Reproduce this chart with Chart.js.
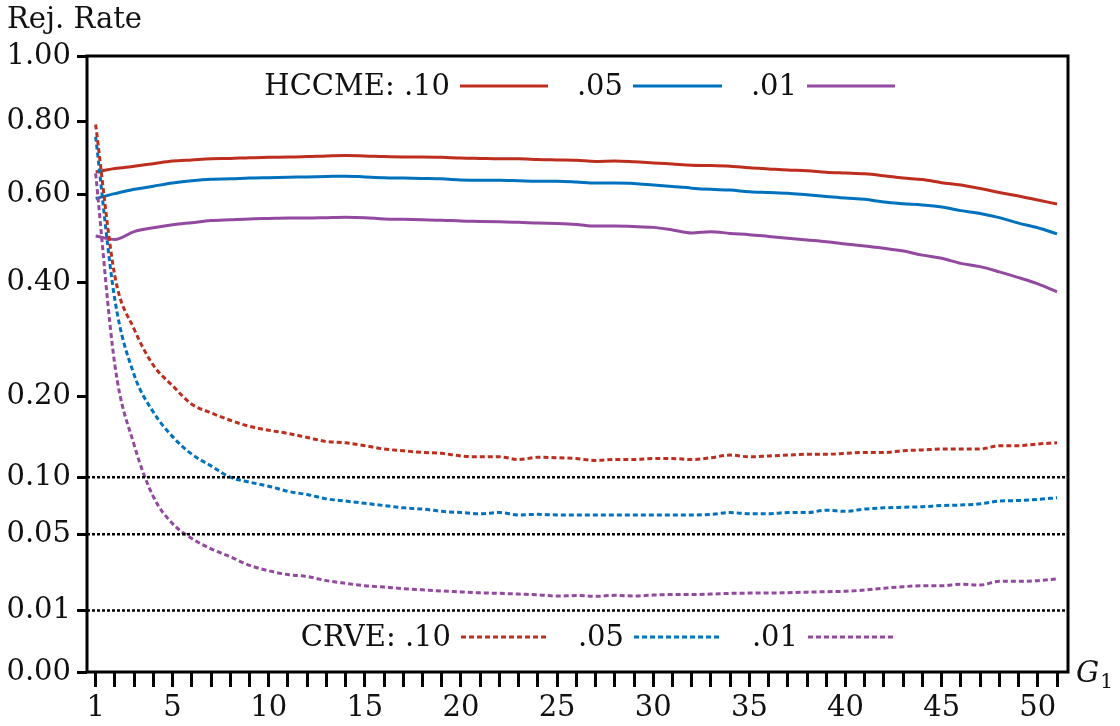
<!DOCTYPE html>
<html><head><meta charset="utf-8">
<script src="https://cdn.jsdelivr.net/npm/chart.js@4.4.1/dist/chart.umd.min.js"></script>
<style>html,body{margin:0;padding:0;background:#fff;}#wrap{width:1120px;height:726px;}</style>
</head><body><div id="wrap"><canvas id="c" width="1120" height="726"></canvas></div>
<script>
const g1 = [1,2,3,4,5,6,7,8,9,10,11,12,13,14,15,16,17,18,19,20,21,22,23,24,25,26,27,28,29,30,31,32,33,34,35,36,37,38,39,40,41,42,43,44,45,46,47,48,49,50,51];
const hccme10 = [0.659,0.668,0.674,0.681,0.688,0.691,0.694,0.695,0.697,0.698,0.699,0.700,0.702,0.703,0.702,0.700,0.699,0.699,0.698,0.696,0.695,0.694,0.694,0.692,0.691,0.690,0.687,0.688,0.686,0.683,0.680,0.677,0.676,0.674,0.670,0.667,0.664,0.662,0.658,0.656,0.654,0.649,0.643,0.639,0.631,0.625,0.616,0.606,0.597,0.587,0.577];
const hccme05 = [0.591,0.603,0.614,0.622,0.630,0.636,0.640,0.641,0.643,0.644,0.645,0.646,0.647,0.648,0.646,0.644,0.643,0.642,0.641,0.638,0.637,0.637,0.636,0.635,0.635,0.633,0.630,0.630,0.629,0.625,0.621,0.617,0.614,0.612,0.608,0.606,0.604,0.600,0.596,0.592,0.589,0.582,0.578,0.575,0.570,0.561,0.554,0.544,0.531,0.520,0.506];
const hccme01 = [0.501,0.493,0.511,0.520,0.527,0.532,0.537,0.539,0.541,0.542,0.543,0.543,0.544,0.545,0.544,0.541,0.540,0.539,0.538,0.536,0.535,0.534,0.533,0.531,0.530,0.528,0.524,0.524,0.523,0.521,0.515,0.508,0.511,0.507,0.504,0.500,0.496,0.492,0.488,0.483,0.478,0.473,0.467,0.458,0.451,0.440,0.433,0.422,0.410,0.397,0.381];
const crve10 = [0.790,0.413,0.310,0.248,0.216,0.189,0.177,0.167,0.159,0.154,0.150,0.145,0.140,0.1385,0.135,0.131,0.129,0.127,0.126,0.123,0.122,0.122,0.119,0.1215,0.121,0.120,0.118,0.119,0.119,0.120,0.120,0.119,0.121,0.124,0.122,0.123,0.124,0.125,0.125,0.126,0.127,0.127,0.129,0.130,0.131,0.131,0.131,0.135,0.135,0.137,0.1385];
const crve05 = [0.755,0.365,0.233,0.178,0.146,0.125,0.112,0.100,0.095,0.091,0.086,0.083,0.079,0.077,0.075,0.073,0.071,0.070,0.068,0.067,0.066,0.067,0.065,0.0655,0.065,0.065,0.065,0.065,0.065,0.065,0.065,0.065,0.0655,0.067,0.066,0.066,0.067,0.067,0.069,0.068,0.070,0.071,0.0715,0.072,0.073,0.0735,0.0745,0.077,0.0775,0.0785,0.080];
const crve01 = [0.655,0.248,0.136,0.081,0.058,0.047,0.040,0.035,0.030,0.027,0.025,0.024,0.022,0.0207,0.0196,0.019,0.0183,0.0178,0.0173,0.0169,0.0165,0.0163,0.016,0.0157,0.0152,0.0154,0.0151,0.0155,0.0152,0.0156,0.0158,0.0158,0.016,0.0163,0.0164,0.0164,0.0166,0.0168,0.0170,0.0172,0.0177,0.0185,0.0192,0.0196,0.0196,0.0203,0.0199,0.0217,0.0217,0.022,0.0228];
const refLevels = [0.10, 0.05, 0.01];
const yTickValues = [0, 0.01, 0.05, 0.10, 0.20, 0.40, 0.60, 0.80, 1.00];
const yTickLabels = ['0.00','0.01','0.05','0.10','0.20','0.40','0.60','0.80','1.00'];
const xLabeledTicks = [1,5,10,15,20,25,30,35,40,45,50];
const levelLabels = ['.10','.05','.01'];
const methodLabels = ['HCCME:','CRVE:'];

const RED = 'rgb(189,46,30)', BLUE = 'rgb(0,114,189)', PURPLE = 'rgb(148,73,160)';
const COLORS = [RED, BLUE, PURPLE];
const FONT = '"DejaVu Serif", serif';
const FS = 29;
const XMIN = 0.55, XMAX = 51.57;
const tr = v => Math.sqrt(v);
const DASH = [5, 3];

function series(label, vals, color, dashed) {
  return {
    label, data: g1.map((g, i) => ({x: g, y: tr(vals[i])})),
    borderColor: color, borderWidth: 3, borderDash: dashed ? DASH : [],
    pointRadius: 0, fill: false, cubicInterpolationMode: 'monotone', borderCapStyle: 'butt'
  };
}
const refSets = refLevels.map(l => ({
  label: 'ref ' + l, data: [{x: XMIN, y: tr(l)}, {x: XMAX, y: tr(l)}],
  borderColor: '#000', borderWidth: 2.5, borderDash: [3, 2], pointRadius: 0, fill: false
}));

const datasets = [
  ...refSets,
  series('CRVE .10', crve10, RED, true),
  series('CRVE .05', crve05, BLUE, true),
  series('CRVE .01', crve01, PURPLE, true),
  series('HCCME .10', hccme10, RED, false),
  series('HCCME .05', hccme05, BLUE, false),
  series('HCCME .01', hccme01, PURPLE, false)
];

const decor = {
  id: 'decor',
  afterDraw(chart) {
    const {ctx, chartArea: a} = chart;
    ctx.save();
    ctx.strokeStyle = '#000'; ctx.lineWidth = 3; ctx.setLineDash([]);
    ctx.strokeRect(a.left, a.top, a.right - a.left, a.bottom - a.top);
    ctx.fillStyle = '#111';
    ctx.textBaseline = 'alphabetic';
    ctx.textAlign = 'left';
    ctx.font = FS + 'px ' + FONT;
    ctx.fillText('Rej. Rate', 7, 28);
    ctx.font = 'italic ' + FS + 'px ' + FONT;
    ctx.fillText('G', 1076, 682);
    const gw = ctx.measureText('G').width;
    ctx.font = '20px ' + FONT;
    ctx.fillText('1', 1076 + gw + 1, 688);
    const rows = [
      {y: 86, dashed: false, starts: [460, 633, 807], ends: [548, 722, 895]},
      {y: 637, dashed: true, starts: [461, 634, 808], ends: [549, 721, 895]}
    ];
    rows.forEach((r, ri) => {
      levelLabels.forEach((lv, i) => {
        const txt = i === 0 ? methodLabels[ri] + ' ' + lv : lv;
        ctx.font = FS + 'px ' + FONT;
        ctx.textAlign = 'right';
        ctx.textBaseline = 'middle';
        ctx.fillStyle = '#111';
        ctx.fillText(txt, r.starts[i] - 10, r.y + 1);
        ctx.strokeStyle = COLORS[i];
        ctx.lineWidth = 3;
        ctx.setLineDash(r.dashed ? DASH : []);
        ctx.beginPath(); ctx.moveTo(r.starts[i], r.y); ctx.lineTo(r.ends[i], r.y); ctx.stroke();
      });
    });
    ctx.restore();
  }
};

new Chart(document.getElementById('c'), {
  type: 'line',
  data: {datasets},
  options: {
    responsive: false, animation: false, devicePixelRatio: 1,
    layout: {padding: {left: 0, top: 56, right: 52, bottom: 0}},
    plugins: {legend: {display: false}, tooltip: {enabled: false}, title: {display: false}},
    scales: {
      x: {
        type: 'linear', min: XMIN, max: XMAX,
        afterBuildTicks: s => { s.ticks = g1.map(v => ({value: v})); },
        afterFit: s => { s.height = 54; },
        ticks: {autoSkip: false, maxRotation: 0, minRotation: 0, padding: 4, color: '#111',
          font: {family: FONT, size: FS},
          callback: v => xLabeledTicks.includes(v) ? String(v) : ''},
        grid: {display: true, drawOnChartArea: false, drawTicks: true, tickLength: 15, tickWidth: 3, tickColor: '#000'},
        border: {display: false}
      },
      y: {
        type: 'linear', min: 0, max: 1,
        afterBuildTicks: s => { s.ticks = yTickValues.map(v => ({value: tr(v)})); },
        afterFit: s => { s.width = 87; },
        ticks: {autoSkip: false, padding: 6, color: '#111', font: {family: FONT, size: FS},
          callback: (v, i) => yTickLabels[i]},
        grid: {display: true, drawOnChartArea: false, drawTicks: true, tickLength: 10, tickWidth: 3, tickColor: '#000'},
        border: {display: false}
      }
    }
  },
  plugins: [decor]
});
</script>
</body></html>
